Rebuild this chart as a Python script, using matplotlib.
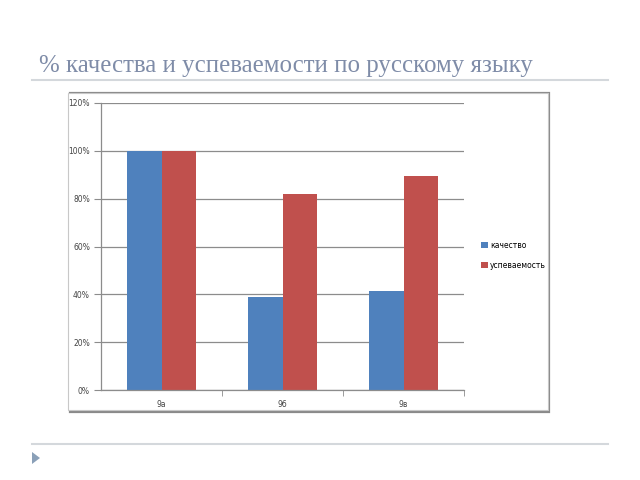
import matplotlib.pyplot as plt
from matplotlib.patches import Rectangle, Polygon
from matplotlib.lines import Line2D

TITLE = "% качества и успеваемости по русскому языку"
CLASSES = ["9а", "9б", "9в"]
SERIES = ["качество", "успеваемость"]
QUALITY = [1.00, 0.39, 0.415]
SUCCESS = [1.00, 0.82, 0.895]
YTICKS = [0.0, 0.2, 0.4, 0.6, 0.8, 1.0, 1.2]

BLUE = "#4f81bd"
RED = "#c0504d"
GRID = "#8c8c8c"


def fx(px):
    return px / 640


def fy(py):
    return 1 - py / 480


def main():
    fig = plt.figure(figsize=(6.4, 4.8), dpi=100)

    # slide title and rules
    fig.text(fx(39), fy(66), TITLE, family="Liberation Serif", fontsize=17.9,
             color="#7f8ca8", va="center", ha="left")
    fig.add_artist(Line2D([fx(32), fx(608)], [fy(80), fy(80)], color="#d4d8dc", lw=1.5))
    fig.add_artist(Line2D([fx(32), fx(608)], [fy(444), fy(444)], color="#d4d8dc", lw=1.5))
    fig.add_artist(Polygon([[fx(32), fy(452)], [fx(32), fy(464)], [fx(40), fy(458)]],
                           closed=True, color="#8aa0b8", lw=0))

    # chart frame, kept behind the axes
    fig.add_artist(Rectangle((fx(70), fy(412)), fx(549) - fx(70), fy(93) - fy(412),
                             facecolor="none", edgecolor="#8a8a8a", lw=1.6, zorder=-2))
    fig.add_artist(Rectangle((fx(68), fy(410)), fx(548) - fx(68), fy(93) - fy(410),
                             facecolor="white", edgecolor="#c8c8c8", lw=0.8, zorder=-1))

    ax = fig.add_axes([fx(101), fy(390), fx(464) - fx(101), fy(103) - fy(390)])
    ax.patch.set_alpha(0)
    x = range(len(CLASSES))
    w = 0.286
    ax.bar([i - w / 2 for i in x], QUALITY, width=w, color=BLUE, label=SERIES[0])
    ax.bar([i + w / 2 for i in x], SUCCESS, width=w, color=RED, label=SERIES[1])

    ax.set_xlim(-0.5, 2.5)
    ax.set_ylim(0, 1.2)
    ax.set_yticks(YTICKS, [f"{int(round(v * 100))}%" for v in YTICKS])
    ax.set_xticks(list(x), CLASSES)
    ax.set_xticks([0.5, 1.5, 2.5], minor=True)
    ax.tick_params(axis="x", which="major", length=0, labelsize=5.5, pad=7, colors="#444444")
    ax.tick_params(axis="x", which="minor", length=4, color=GRID)
    ax.tick_params(axis="y", length=5, color=GRID, labelsize=5.5, labelcolor="#444444", pad=3)
    ax.grid(axis="y", color=GRID, lw=0.9)
    ax.set_axisbelow(True)
    for s in ["top", "right"]:
        ax.spines[s].set_visible(False)
    for s in ["left", "bottom"]:
        ax.spines[s].set_color(GRID)
        ax.spines[s].set_linewidth(0.9)

    fig.legend(loc="upper left", bbox_to_anchor=(fx(474), fy(234)), frameon=False,
               fontsize=5.5, handlelength=0.9, handleheight=0.9, handletextpad=0.3,
               labelspacing=1.4)

    fig.savefig("out.png", dpi=100)


if __name__ == "__main__":
    main()
